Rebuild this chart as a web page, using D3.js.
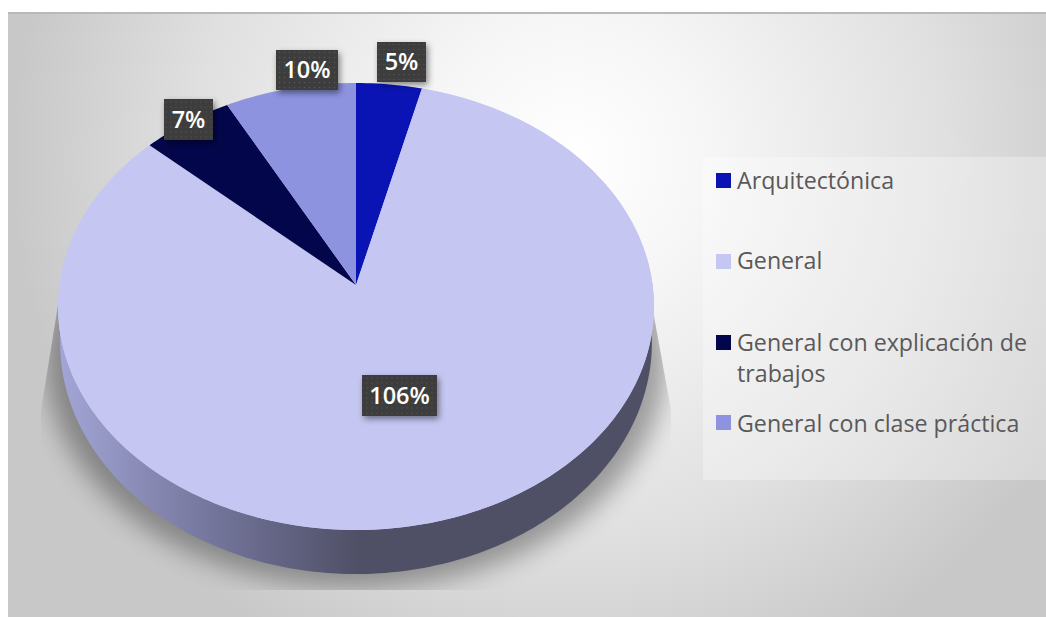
<!DOCTYPE html>
<html>
<head>
<meta charset="utf-8">
<script src="https://cdn.jsdelivr.net/npm/d3@7"></script>
<style>
html, body { margin: 0; padding: 0; background: #fff; }
svg { display: block; }
text { font-family: "Open Sans", sans-serif; }
</style>
</head>
<body>
<div id="chart"></div>
<script>
const width = 1046;
const height = 617;

const categories = ["Arquitectónica", "General", "General con explicación de trabajos", "General con clase práctica"];
const values = [5, 106, 7, 10];
const valueLabels = ["5%", "106%", "7%", "10%"];
const colors = ["#0a14b4", "#c5c7f2", "#03064a", "#8e93e0"];

const svg = d3.select("#chart").append("svg")
    .attr("width", width)
    .attr("height", height);

const defs = svg.append("defs");

// Background gradient, white near the top middle and gray towards the edges
const bg = defs.append("radialGradient").attr("id", "bg")
    .attr("gradientUnits", "userSpaceOnUse")
    .attr("cx", 570).attr("cy", 160).attr("r", 560);
bg.append("stop").attr("offset", "0").attr("stop-color", "#ffffff");
bg.append("stop").attr("offset", "0.25").attr("stop-color", "#f6f6f6");
bg.append("stop").attr("offset", "0.67").attr("stop-color", "#e0e0e0");
bg.append("stop").attr("offset", "1").attr("stop-color", "#c8c8c8");

// Side of the pie
const side = defs.append("linearGradient").attr("id", "side")
    .attr("gradientUnits", "userSpaceOnUse")
    .attr("x1", 60).attr("x2", 360).attr("y1", 0).attr("y2", 0);
side.append("stop").attr("offset", "0").attr("stop-color", "#a3a5d6");
side.append("stop").attr("offset", "0.5").attr("stop-color", "#74769c");
side.append("stop").attr("offset", "1").attr("stop-color", "#4f4f66");

defs.append("filter").attr("id", "blur")
    .attr("x", "-20%").attr("y", "-20%").attr("width", "140%").attr("height", "140%")
    .append("feGaussianBlur").attr("stdDeviation", 13);

const labelShadow = defs.append("filter").attr("id", "labelShadow")
    .attr("x", "-30%").attr("y", "-30%").attr("width", "170%").attr("height", "170%");
labelShadow.append("feDropShadow")
    .attr("dx", 2).attr("dy", 3).attr("stdDeviation", 3)
    .attr("flood-color", "#000").attr("flood-opacity", 0.45);

// Dotted fill of the data labels
const dots = defs.append("pattern").attr("id", "dots")
    .attr("patternUnits", "userSpaceOnUse").attr("width", 5).attr("height", 5);
dots.append("rect").attr("width", 5).attr("height", 5).attr("fill", "#3c3c3c");
dots.append("circle").attr("cx", 2.5).attr("cy", 2.5).attr("r", 0.8).attr("fill", "#555553");

// The shadow is cut off by a trapezoid
defs.append("clipPath").attr("id", "shadowClip")
    .append("polygon").attr("points", "58,305 41,410 41,590 671,590 671,410 652,305");

// Background
svg.append("rect").attr("x", 8).attr("y", 12)
    .attr("width", width - 8).attr("height", height - 12)
    .attr("fill", "url(#bg)");
svg.append("rect").attr("x", 8).attr("y", 12)
    .attr("width", width - 8).attr("height", 2)
    .attr("fill", "#b9b9b9");

// Perspective projection of the unit disc on the screen
const cx = 356, cy = 285;
const scaleX = 296.6, scaleY = 221.4, tilt = -0.0962;

function project(angle, r) {
    const u = r * Math.sin(angle);
    const v = -r * Math.cos(angle);
    const w = 1 + tilt * v;
    return [cx + scaleX * u / w, cy + scaleY * v / w];
}

// The rim below is the same outline slightly stretched and moved down
function projectRim(angle) {
    const p = project(angle, 1);
    return [cx + (p[0] - cx) * 0.993, 342 + (p[1] - 306) * 1.036];
}

// The shadow is the rim a little wider and lower
function projectShadow(angle) {
    const p = projectRim(angle);
    return [cx + (p[0] - cx) * 1.05, p[1] + 14];
}

const line = d3.line();
const arcs = d3.pie().sort(null).value(d => d)(values);

function arcAngles(start, end) {
    const n = Math.max(2, Math.ceil((end - start) / 0.02));
    return d3.range(n + 1).map(i => start + (end - start) * i / n);
}

const fullCircle = arcAngles(0, 2 * Math.PI);

// Shadow on the wall
svg.append("g").attr("clip-path", "url(#shadowClip)")
    .append("path")
    .attr("d", line(fullCircle.map(projectShadow)) + "Z")
    .attr("fill", "#000")
    .attr("opacity", 0.34)
    .attr("filter", "url(#blur)");

// Side wall and top face
svg.append("path").attr("d", line(fullCircle.map(projectRim)) + "Z").attr("fill", "url(#side)");
svg.append("path").attr("d", line(fullCircle.map(a => project(a, 1))) + "Z").attr("fill", colors[1]);

svg.append("g").selectAll("path")
    .data(arcs)
    .join("path")
    .attr("d", d => line([[cx, cy]].concat(arcAngles(d.startAngle, d.endAngle).map(a => project(a, 1)))) + "Z")
    .attr("fill", (d, i) => colors[i]);

// Data labels
const labelPos = [
    { x: 401.5, y: 62, w: 49, h: 40 },
    { x: 399.5, y: 395.5, w: 75, h: 41 },
    { x: 188.5, y: 119.5, w: 49, h: 41 },
    { x: 307, y: 70, w: 62, h: 40 }
];

const labels = svg.append("g").selectAll("g")
    .data(valueLabels)
    .join("g")
    .attr("transform", (d, i) => `translate(${labelPos[i].x}, ${labelPos[i].y})`);

labels.append("rect")
    .attr("x", (d, i) => -labelPos[i].w / 2)
    .attr("y", (d, i) => -labelPos[i].h / 2)
    .attr("width", (d, i) => labelPos[i].w)
    .attr("height", (d, i) => labelPos[i].h)
    .attr("fill", "url(#dots)")
    .attr("filter", "url(#labelShadow)");

labels.append("text")
    .attr("text-anchor", "middle")
    .attr("dy", "0.36em")
    .attr("fill", "#fff")
    .attr("font-size", 23.5)
    .attr("font-weight", 600)
    .text(d => d);

// Legend
svg.append("rect")
    .attr("x", 703).attr("y", 157).attr("width", 343).attr("height", 323)
    .attr("fill", "#fff").attr("opacity", 0.3);

const legendRows = [
    { lines: ["Arquitectónica"], y: 181, base: 189 },
    { lines: ["General"], y: 262, base: 269 },
    { lines: ["General con explicación de", "trabajos"], y: 343, base: 351 },
    { lines: ["General con clase práctica"], y: 423, base: 432 }
];

const legend = svg.append("g").selectAll("g")
    .data(legendRows)
    .join("g")
    .attr("transform", d => `translate(716, ${d.y})`);

legend.append("rect")
    .attr("y", -8).attr("width", 15).attr("height", 15)
    .attr("fill", (d, i) => colors[i]);

legend.selectAll("text")
    .data(d => d.lines.map(t => ({ t: t, off: d.base - d.y })))
    .join("text")
    .attr("x", 21)
    .attr("y", (d, i) => d.off + i * 31)
    .attr("fill", "#595959")
    .attr("font-size", 23.2)
    .text(d => d.t);
</script>
</body>
</html>
